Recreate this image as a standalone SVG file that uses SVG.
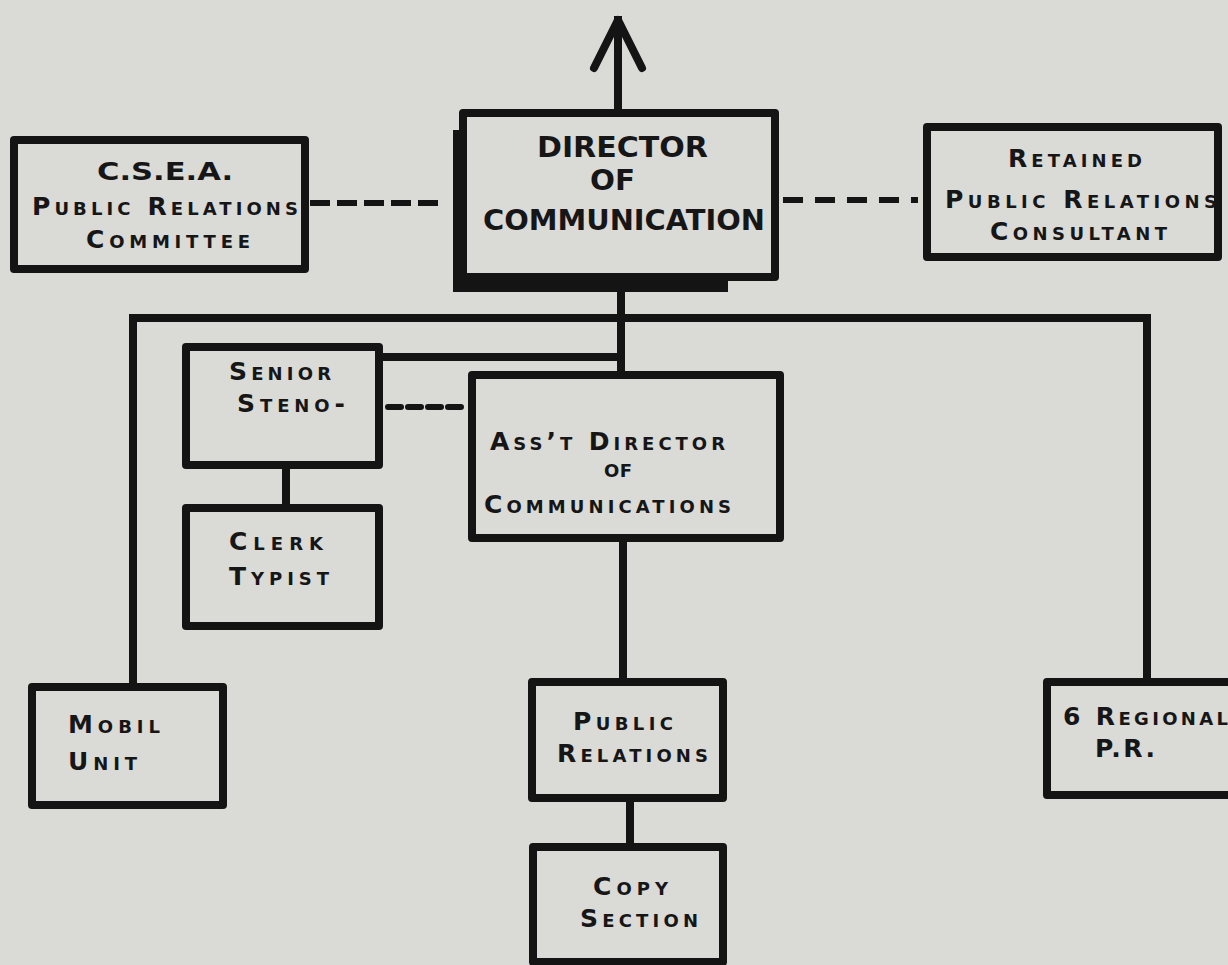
<svg xmlns="http://www.w3.org/2000/svg" width="1228" height="965" viewBox="0 0 1228 965">
<style>
.bg{fill:#dadad6}
.box{fill:#dadad6;stroke:#141414;stroke-width:8;stroke-linejoin:round}
.ln{fill:none;stroke:#141414;stroke-width:8}
.dash{fill:none;stroke:#141414;stroke-width:6}
text{font-family:"DejaVu Sans","Liberation Sans",sans-serif;font-weight:bold;fill:#161616;font-variant:small-caps;font-size:25px}
.caps{font-size:28px;font-variant:normal}
</style>
<rect class="bg" x="0" y="0" width="1228" height="965"/>
<g id="connectors">
  <path class="ln" d="M618,112 V16" stroke-width="10"/>
  <path class="ln" d="M594,68 L618,20 L642,68" stroke-width="10" stroke-linecap="round" stroke-linejoin="round"/>
  <path class="ln" d="M621,290 V425"/>
  <path class="ln" d="M133,688 V318 H1147 V682"/>
  <path class="ln" d="M380,357 H621"/>
  <path class="ln" d="M286,466 V508"/>
  <path class="ln" d="M623,538 V682"/>
  <path class="ln" d="M630,798 V847"/>
  <path class="dash" d="M310,203 H440" stroke-dasharray="20 7"/>
  <path class="dash" d="M783,200 H918" stroke-dasharray="20 12"/>
  <path class="dash" d="M388,407 H463" stroke-width="7" stroke-dasharray="13 7" stroke-linecap="round"/>
</g>
<g id="csea">
  <rect class="box" x="14" y="140" width="291" height="129"/>
  <text x="97" y="180" textLength="136" lengthAdjust="spacingAndGlyphs">C.S.E.A.</text>
  <text x="32" y="215" textLength="266" lengthAdjust="spacing">Public Relations</text>
  <text x="86" y="248" textLength="164" lengthAdjust="spacing">Committee</text>
</g>
<g id="director">
  <rect x="453" y="130" width="275" height="162" fill="#141414"/>
  <rect class="box" x="463" y="113" width="312" height="164"/>
  <text class="caps" x="537" y="157" textLength="171" lengthAdjust="spacingAndGlyphs">DIRECTOR</text>
  <text class="caps" x="590" y="190" textLength="45" lengthAdjust="spacingAndGlyphs">OF</text>
  <text class="caps" x="483" y="230" textLength="282" lengthAdjust="spacingAndGlyphs">COMMUNICATION</text>
</g>
<g id="retained">
  <rect class="box" x="927" y="127" width="291" height="130"/>
  <text x="1008" y="167" textLength="134" lengthAdjust="spacing">Retained</text>
  <text x="945" y="208" textLength="272" lengthAdjust="spacing">Public Relations</text>
  <text x="990" y="240" textLength="177" lengthAdjust="spacing">Consultant</text>
</g>
<g id="senior-steno">
  <rect class="box" x="186" y="347" width="193" height="118"/>
  <text x="229" y="380" textLength="102" lengthAdjust="spacing">Senior</text>
  <text x="237" y="412" textLength="108" lengthAdjust="spacing">Steno-</text>
</g>
<g id="clerk-typist">
  <rect class="box" x="186" y="508" width="193" height="118"/>
  <text x="229" y="550" textLength="94" lengthAdjust="spacing">Clerk</text>
  <text x="229" y="585" textLength="100" lengthAdjust="spacing">Typist</text>
</g>
<g id="asst-director">
  <rect class="box" x="472" y="375" width="308" height="163"/>
  <text x="490" y="450" textLength="235" lengthAdjust="spacing">Ass’t Director</text>
  <text x="604" y="477" textLength="28" lengthAdjust="spacing">of</text>
  <text x="484" y="513" textLength="247" lengthAdjust="spacing">Communications</text>
</g>
<g id="mobil-unit">
  <rect class="box" x="32" y="687" width="191" height="118"/>
  <text x="68" y="733" textLength="92" lengthAdjust="spacing">Mobil</text>
  <text x="68" y="770" textLength="69" lengthAdjust="spacing">Unit</text>
</g>
<g id="public-relations">
  <rect class="box" x="532" y="682" width="191" height="116"/>
  <text x="573" y="730" textLength="100" lengthAdjust="spacing">Public</text>
  <text x="557" y="762" textLength="151" lengthAdjust="spacing">Relations</text>
</g>
<g id="copy-section">
  <rect class="box" x="533" y="847" width="190" height="115"/>
  <text x="593" y="895" textLength="75" lengthAdjust="spacing">Copy</text>
  <text x="580" y="927" textLength="118" lengthAdjust="spacing">Section</text>
</g>
<g id="regional-pr">
  <rect class="box" x="1047" y="682" width="200" height="113"/>
  <text x="1063" y="725" textLength="165" lengthAdjust="spacing">6 Regional</text>
  <text x="1095" y="757" textLength="60" lengthAdjust="spacing">P.R.</text>
</g>
</svg>
